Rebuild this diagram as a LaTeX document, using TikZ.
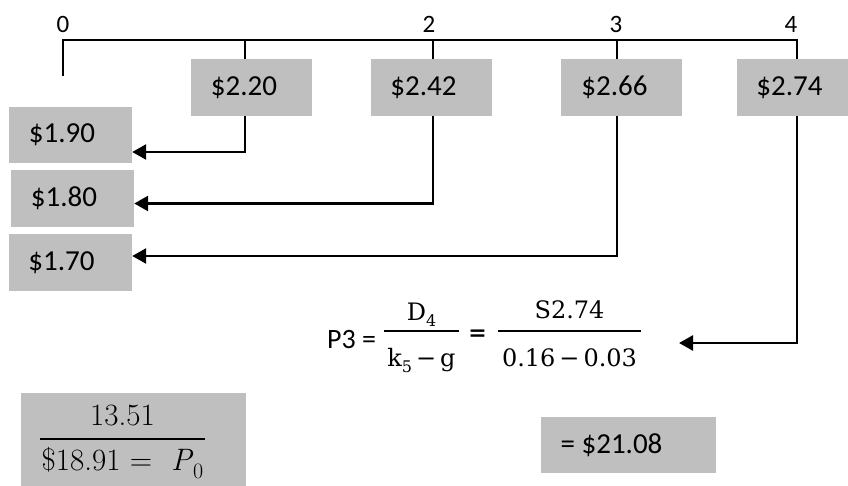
\documentclass[tikz,border=0pt]{standalone}
\usepackage[no-math]{fontspec}
\usetikzlibrary{arrows.meta}
\newfontfamily\carl{Carlito}
\newfontfamily\dvs{DejaVu Serif}
\definecolor{boxgray}{HTML}{BFBFBF}
\newcommand{\lowsub}[2][16]{\raisebox{-0.28em}{\fontsize{#1}{#1}\selectfont #2}}
\begin{document}
\begin{tikzpicture}[x=1pt,y=-1pt,
  line/.style={line width=2.6pt},
  arr/.style={line width=2.6pt,-{Triangle[length=14pt,width=15pt]}},
  gbox/.style={fill=boxgray,draw=none,inner sep=0pt,font=\carl\fontsize{29}{35}\selectfont},
  tlabel/.style={font=\carl\fontsize{25}{30}\selectfont,inner sep=0pt,anchor=base},
  mtxt/.style={font=\dvs\fontsize{24}{29}\selectfont,inner sep=0pt,anchor=base},
  ptxt/.style={font=\rmfamily\fontsize{31}{37}\selectfont,inner sep=0pt,anchor=base},
  fbar/.style={line width=1.6pt}
]
\useasboundingbox (0,0) rectangle (848,486);

% timeline
\coordinate (tk0) at (63,40);
\coordinate (tk1) at (245,40);
\coordinate (tk2) at (433,40);
\coordinate (tk3) at (617,40);
\coordinate (tk4) at (797,40);
\coordinate (c0) at (63,76);

\node[tlabel] (n0) at (63,33) {0};
\node[tlabel] (n2) at (429,33) {2};
\node[tlabel] (n3) at (616,33) {3};
\node[tlabel] (n4) at (791,33) {4};

% dividend boxes
\node[gbox,minimum width=121pt,minimum height=57pt] (b1) at (251.5,87.5) {\hspace*{-15pt}\$2.20};
\node[gbox,minimum width=121pt,minimum height=57pt] (b2) at (431.5,87.5) {\hspace*{-16pt}\$2.42};
\node[gbox,minimum width=121pt,minimum height=57pt] (b3) at (621.5,87.5) {\hspace*{-14pt}\$2.66};
\node[gbox,minimum width=111pt,minimum height=57pt] (b4) at (792.5,87.5) {\hspace*{-6pt}\$2.74};

\draw[line] (c0) -- (tk0) -- (tk4) -- (tk4 |- b4.north);
\draw[line] (tk1) -- (tk1 |- b1.north);
\draw[line] (tk2) -- (tk2 |- b2.north);
\draw[line] (tk3) -- (tk3 |- b3.north);

% present value boxes
\node[gbox,minimum width=123pt,minimum height=56pt] (l1) at (70.5,135) {\hspace*{-17pt}\$1.90};
\node[gbox,minimum width=123pt,minimum height=57pt] (l2) at (72.5,198.5) {\hspace*{-17pt}\$1.80};
\node[gbox,minimum width=123pt,minimum height=57pt] (l3) at (70.5,262.5) {\hspace*{-18pt}\$1.70};

\coordinate (y1) at (0,152);
\coordinate (y2) at (0,203.5);
\coordinate (y3) at (0,256);
\coordinate (atip) at (679,343);

\draw[arr] (b1.south -| tk1) |- (l1.east |- y1);
\draw[arr] (b2.south -| tk2) |- (l2.east |- y2);
\draw[arr] (b3.south -| tk3) |- (l3.east |- y3);
\draw[arr] (b4.south -| tk4) |- (atip);

% formula
\node[font=\carl\fontsize{28}{33}\selectfont,inner sep=0pt,anchor=base west] (p3) at (327,348) {P3 =};
\node[mtxt] (f1n) at (421.5,320) {D\lowsub{4}};
\draw[fbar] (384,331) -- (459,331);
\node[mtxt] (f1d) at (421.5,366) {k\lowsub{5}\,−\,g};
\node[mtxt,font=\dvs\bfseries\fontsize{22}{26}\selectfont] (eq) at (477.5,340) {=};
\node[mtxt] (f2n) at (569.5,318) {S2.74};
\draw[fbar] (498,331) -- (641,331);
\node[mtxt] (f2d) at (569.5,366) {0.16\,−\,0.03};

% result boxes
\node[fill=boxgray,draw=none,inner sep=0pt,minimum width=225pt,minimum height=93pt] (pbox) at (133.5,439.5) {};
\node[ptxt] (p0n) at (122.5,425) {13.51};
\draw[fbar] (40,439) -- (205,439);
\node[ptxt] (p0d) at (122.5,470) {\$18.91 =\ \ \textit{P}\lowsub[22]{0}};
\node[gbox,minimum width=175pt,minimum height=56pt] (res) at (628.5,445) {\hspace*{-34pt}= \$21.08};
\end{tikzpicture}
\end{document}
